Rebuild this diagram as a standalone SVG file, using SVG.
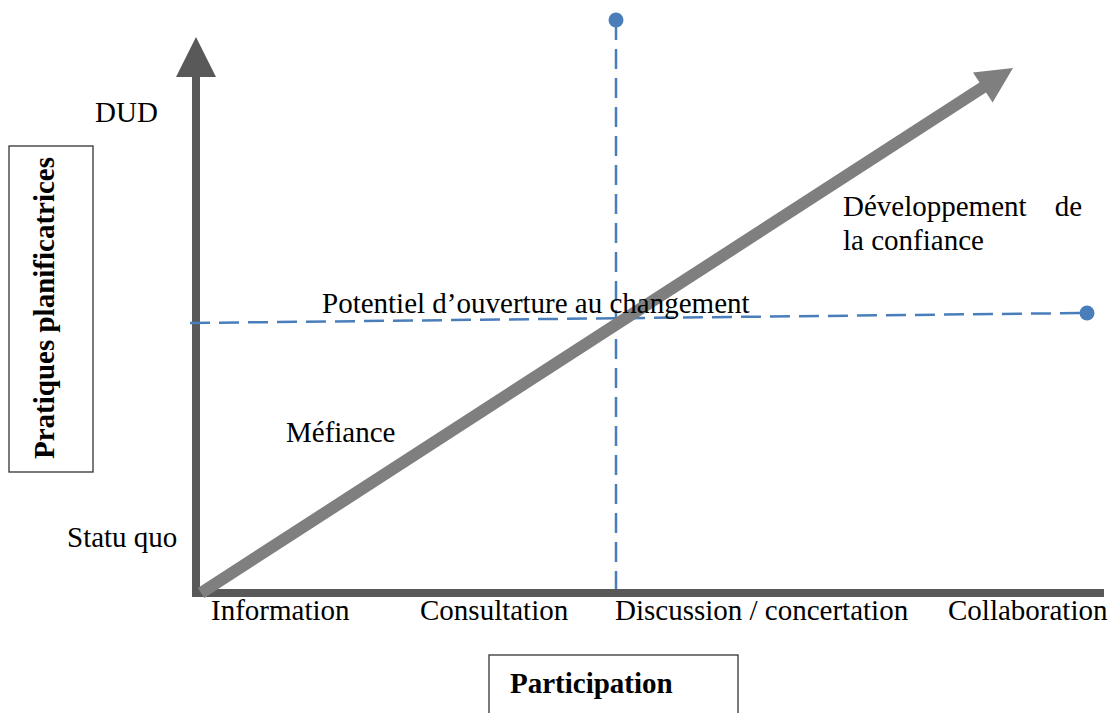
<svg xmlns="http://www.w3.org/2000/svg" width="1112" height="713" viewBox="0 0 1112 713">
  <style>
    .t { font-family: "Liberation Serif", "Times New Roman", serif; font-size: 29px; fill: #000; }
    .b { font-weight: bold; }
    .dash { stroke: #4a7ebb; stroke-width: 2.5; stroke-dasharray: 20 9; fill: none; }
    .dot { fill: #4a7ebb; }
    .box { fill: #fff; stroke: #333; stroke-width: 1.3; }
  </style>
  <rect width="1112" height="713" fill="#fff"/>
  <g id="connectors">
    <!-- vertical axis -->
    <line x1="196" y1="597" x2="196" y2="76" stroke="#595959" stroke-width="8"/>
    <polygon points="196,37 216,77 176,77" fill="#595959"/>
    <!-- horizontal axis -->
    <line x1="192" y1="593" x2="1104" y2="593" stroke="#595959" stroke-width="8"/>
    <!-- blue dashed guides -->
    <line class="dash" x1="616" y1="20" x2="616" y2="589"/>
    <circle class="dot" cx="616" cy="20" r="7.5"/>
    <line class="dash" x1="190" y1="323" x2="1087" y2="313"/>
    <circle class="dot" cx="1087" cy="313" r="7.5"/>
    <!-- diagonal arrow -->
    <line x1="201" y1="593" x2="985" y2="86" stroke="#7f7f7f" stroke-width="12"/>
    <polygon points="1013,68 992.6,102.6 973,72.4" fill="#7f7f7f"/>
  </g>
  <g id="y-axis-label">
    <rect class="box" x="9" y="146" width="84" height="326"/>
    <text class="t b" x="54" y="308" text-anchor="middle" transform="rotate(-90 54 308)">Pratiques planificatrices</text>
  </g>
  <g id="x-axis-label">
    <rect class="box" x="489" y="655" width="249" height="70"/>
    <text class="t b" x="510" y="693">Participation</text>
  </g>
  <g id="dud"><text class="t" x="95" y="122">DUD</text></g>
  <g id="statu-quo"><text class="t" x="67" y="547">Statu quo</text></g>
  <g id="mefiance"><text class="t" x="286" y="442">Méfiance</text></g>
  <g id="potentiel"><text class="t" x="322" y="313">Potentiel d’ouverture au changement</text></g>
  <g id="developpement">
    <text class="t" x="843" y="216">Développement</text>
    <text class="t" x="1082" y="216" text-anchor="end">de</text>
    <text class="t" x="843" y="250">la confiance</text>
  </g>
  <g id="information"><text class="t" x="211" y="620">Information</text></g>
  <g id="consultation"><text class="t" x="420" y="620">Consultation</text></g>
  <g id="discussion"><text class="t" x="615" y="620">Discussion / concertation</text></g>
  <g id="collaboration"><text class="t" x="948" y="620">Collaboration</text></g>
</svg>
